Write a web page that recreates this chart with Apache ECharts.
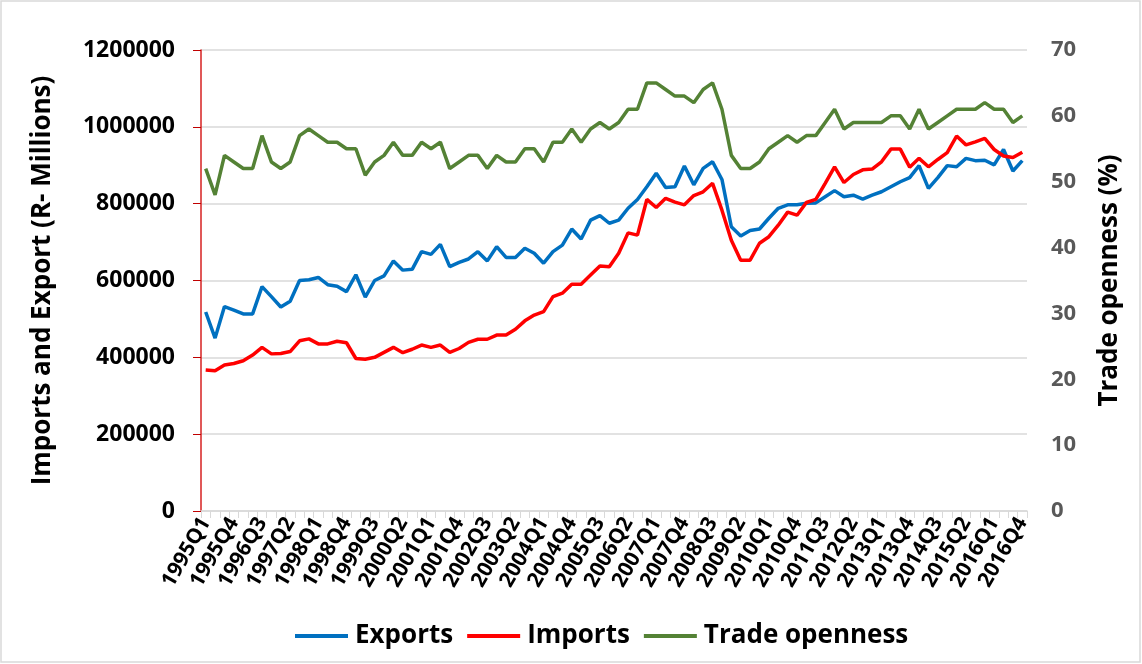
<!DOCTYPE html>
<html>
<head>
<meta charset="utf-8">
<script src="https://cdn.jsdelivr.net/npm/echarts@6/dist/echarts.min.js"></script>
<style>
html,body{margin:0;padding:0;background:#fff;}
#chart{width:1142px;height:664px;}
</style>
</head>
<body>
<div id="chart"></div>
<script>
////--------------------------------------------------------------------////
const years = [];
for (let y = 1995; y <= 2016; y++) {
    for (let q = 1; q <= 4; q++) years.push(y + 'Q' + q);
}
const quarters = years;

const exports_data = [
    518000,450000,532000,523000,513000,513000,584000,558000,531000,546000,
    600000,602000,608000,589000,585000,571000,615000,557000,600000,612000,
    651000,627000,629000,675000,668000,694000,636000,647000,656000,675000,
    651000,688000,660000,660000,684000,671000,645000,675000,692000,734000,
    708000,757000,769000,749000,757000,788000,811000,844000,879000,842000,
    844000,898000,849000,892000,909000,863000,740000,716000,730000,734000,
    762000,788000,797000,797000,801000,802000,818000,834000,818000,822000,
    812000,822000,831000,844000,857000,868000,899000,840000,868000,899000,
    896000,918000,912000,913000,901000,941000,885000,912000
];
const imports_data = [
    367000,365000,380000,384000,391000,406000,426000,409000,410000,415000,
    443000,448000,435000,435000,442000,438000,397000,395000,400000,413000,
    426000,412000,421000,432000,426000,432000,413000,423000,439000,447000,
    447000,458000,458000,473000,495000,510000,519000,558000,567000,590000,
    590000,614000,638000,636000,671000,724000,718000,811000,790000,814000,
    804000,797000,821000,831000,853000,783000,705000,653000,653000,697000,
    714000,744000,778000,770000,803000,811000,853000,896000,855000,876000,
    888000,890000,909000,942000,942000,895000,918000,896000,915000,933000,
    976000,953000,961000,970000,941000,924000,920000,934000
];
const openness_data = [
    52,48,54,53,52,52,57,53,52,53,
    57,58,57,56,56,55,55,51,53,54,
    56,54,54,56,55,56,52,53,54,54,
    52,54,53,53,55,55,53,56,56,58,
    56,58,59,58,59,61,61,65,65,64,
    63,63,62,64,65,61,54,52,52,53,
    55,56,57,56,57,57,59,61,58,59,
    59,59,59,60,60,58,61,58,59,60,
    61,61,61,62,61,61,59,60
];
////--------------------------------------------------------------------////
const font = '"Open Sans", "DejaVu Sans", sans-serif';

function line_series(name, data, color, axis) {
    return {
        name: name,
        type: 'line',
        yAxisIndex: axis,
        data: data,
        symbol: 'none',
        lineStyle: {color: color, width: 3.5},
        itemStyle: {color: color}
    };
}

const chart = echarts.init(document.getElementById('chart'), null, {renderer: 'canvas'});
chart.setOption({
    animation: false,
    backgroundColor: '#fff',
    textStyle: {fontFamily: font},
    graphic: [{
        type: 'rect',
        shape: {x: 1, y: 1, width: 1139, height: 661},
        style: {fill: 'none', stroke: '#d9d9d9', lineWidth: 1.5}
    }],
    grid: {left: 201, right: 115, top: 50, bottom: 153},
    legend: {
        bottom: 10,
        left: 290,
        icon: 'rect',
        itemWidth: 53,
        itemHeight: 4,
        itemGap: 14,
        textStyle: {fontFamily: font, fontSize: 26, fontWeight: 'bold', color: '#000', padding: [0, 0, 0, 2]},
        data: ['Exports', 'Imports', 'Trade openness']
    },
    xAxis: {
        type: 'category',
        data: quarters,
        axisLine: {lineStyle: {color: '#d9d9d9', width: 1.5}},
        axisTick: {show: true, interval: 0, length: 7, lineStyle: {color: '#d9d9d9'}},
        axisLabel: {
            interval: 2,
            rotate: 60,
            margin: 8,
            fontFamily: font,
            fontSize: 21,
            fontWeight: 'bold',
            color: '#000'
        }
    },
    yAxis: [{
        type: 'value',
        min: 0,
        max: 1200000,
        interval: 200000,
        name: 'Imports and Export (R- Millions)',
        nameLocation: 'middle',
        nameGap: 145,
        nameRotate: 90,
        nameTextStyle: {fontFamily: font, fontSize: 26, fontWeight: 'bold', color: '#000'},
        axisLine: {show: true, lineStyle: {color: '#d62020', width: 1.5}},
        axisTick: {show: true, length: 8, lineStyle: {color: '#c00000'}},
        axisLabel: {
            margin: 26, fontFamily: font, fontSize: 23, fontWeight: 'bold', color: '#000',
            formatter: function (v) { return String(v); }
        },
        splitLine: {lineStyle: {color: '#d9d9d9', width: 1.5}}
    }, {
        type: 'value',
        min: 0,
        max: 70,
        interval: 10,
        name: 'Trade openness (%)',
        nameLocation: 'middle',
        nameGap: 70,
        nameRotate: 90,
        nameTextStyle: {fontFamily: font, fontSize: 26, fontWeight: 'bold', color: '#000'},
        axisLine: {show: false},
        axisTick: {show: false},
        axisLabel: {margin: 24, fontFamily: font, fontSize: 22, fontWeight: 'bold', color: '#595959'},
        splitLine: {show: false}
    }],
    series: [
        line_series('Exports', exports_data, '#0070c0', 0),
        line_series('Imports', imports_data, '#ff0000', 0),
        line_series('Trade openness', openness_data, '#548235', 1)
    ]
});
window.addEventListener('resize', chart.resize);
</script>
</body>
</html>
